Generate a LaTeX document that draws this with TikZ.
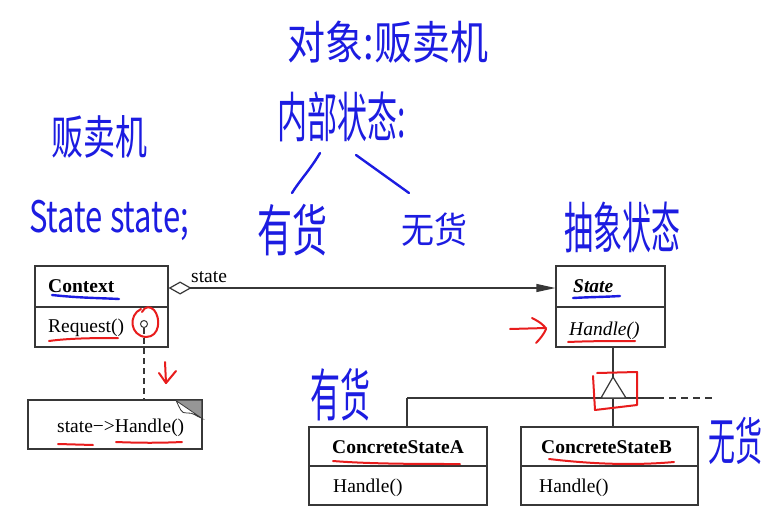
\documentclass[tikz,border=0pt]{standalone}
\usepackage{fontspec}
\setmainfont{Liberation Serif}
\newfontfamily\hwfont{Noto Sans CJK SC}
\usetikzlibrary{arrows.meta}
\definecolor{hwblue}{RGB}{28,28,225}
\definecolor{hwred}{RGB}{232,28,28}
\definecolor{linegray}{RGB}{55,55,55}
\definecolor{foldgray}{RGB}{150,150,150}
\newcommand\hwsize[1]{\hwfont\fontsize{#1}{#1}\selectfont}
\begin{document}
\begin{tikzpicture}[x=1pt,y=-1pt,
  umlbox/.style={draw=linegray, line width=1.2pt, rectangle, inner sep=0pt},
  umlline/.style={draw=linegray, line width=1.2pt},
  uml/.style={font=\fontsize{19.5}{22}\selectfont, inner sep=0pt, anchor=base west},
  hw/.style={text=hwblue, inner sep=0pt},
  bluepen/.style={draw=hwblue, line width=2.4pt, line cap=round, line join=round},
  redpen/.style={draw=hwred, line width=2pt, line cap=round, line join=round},
]
\useasboundingbox[fill=white] (0,0) rectangle (784,522);

% ---------- UML boxes ----------
\node[umlbox, minimum width=133pt, minimum height=81pt] (ctx) at (101.5,306.5) {};
\draw[umlline] (ctx.west |- 0,307) -- (ctx.east |- 0,307);
\node[uml, font=\fontsize{19.5}{22}\selectfont\bfseries] (ctxname) at (48,292) {Context};
\node[uml] (req) at (48,332) {Request()};
\node[circle, draw=linegray, line width=1pt, minimum size=7pt, inner sep=0pt] (dot) at (144,324) {};

\node[umlbox, minimum width=109pt, minimum height=81pt] (state) at (610.5,306.5) {};
\draw[umlline] (state.west |- 0,307) -- (state.east |- 0,307);
\node[uml, font=\fontsize{19.5}{22}\selectfont\bfseries\itshape] (statename) at (573,292) {State};
\node[uml, font=\fontsize{19.5}{22}\selectfont\itshape] (sh) at (569,335) {Handle()};

\node[umlbox, minimum width=178pt, minimum height=78pt] (csA) at (398,466) {};
\draw[umlline] (csA.west |- 0,466) -- (csA.east |- 0,466);
\node[uml, font=\fontsize{19.5}{22}\selectfont\bfseries] (csAname) at (332,453) {ConcreteStateA};
\node[uml] (csAh) at (333,492) {Handle()};

\node[umlbox, minimum width=177pt, minimum height=78pt] (csB) at (609.5,466) {};
\draw[umlline] (csB.west |- 0,466) -- (csB.east |- 0,466);
\node[uml, font=\fontsize{19.5}{22}\selectfont\bfseries] (csBname) at (541,453) {ConcreteStateB};
\node[uml] (csBh) at (539,492) {Handle()};

% note
\node[umlbox, minimum width=174pt, minimum height=49pt] (note) at (115,424.5) {};
\fill[foldgray] (176,400.6) -- (201.4,400.6) -- (201.4,418) -- cycle;
\draw[linegray, line width=0.8pt, fill=white] (176,400.6) .. controls (180,408) and (181,414) .. (187,413)
   .. controls (193,412) and (197,417) .. (201.4,418) -- cycle;
\node[uml] (notetxt) at (57,432) {state−>Handle()};
\draw[umlline, dash pattern=on 6pt off 4pt] (dot.south) -- (dot.south |- note.north);

% association
\draw[umlline, {Diamond[open,length=23pt,width=13pt]}-{Triangle[length=19pt,width=8pt]}]
  (ctx.east |- 0,288) -- (state.west |- 0,288);
\node[uml] (assoclbl) at (191,282) {state};

% inheritance
\coordinate (apex) at (613,377);
\coordinate (hL) at (407,398);
\coordinate (hM) at (613,398);
\coordinate (hR) at (657,398);
\coordinate (hD) at (717,398);
\draw[umlline] (apex |- state.south) -- (apex);
\draw[umlline] (hL) -- (hR);
\draw[umlline, dash pattern=on 7pt off 5pt] (hR) -- (hD);
\draw[umlline] (hL) -- (hL |- csA.north);
\draw[umlline] (hM) -- (hM |- csB.north);
\draw[umlline, fill=white] (apex) -- (601,398) -- (626,398) -- cycle;

% ---------- blue handwriting ----------
\node[hw, font=\hwsize{38}] (t1) at (388,42) {\scalebox{1}[1.2]{对象:贩卖机}};
\node[hw, font=\hwsize{30}] (t2) at (342,117) {\scalebox{1}[1.8]{内部状态:}};
\node[hw, font=\hwsize{32}] (t3) at (99,137) {\scalebox{1}[1.45]{贩卖机}};
\node[hw, font=\hwsize{31}] (t4) at (109,220) {\scalebox{1}[1.4]{State state;}};
\node[hw, font=\hwsize{35}] (t5) at (292,230) {\scalebox{1}[1.6]{有货}};
\node[hw, font=\hwsize{33}] (t6) at (434,230) {\scalebox{1}[1.1]{无货}};
\node[hw, font=\hwsize{29}] (t7) at (622,227) {\scalebox{1}[1.9]{抽象状态}};
\node[hw, font=\hwsize{30}] (t8) at (340,395) {\scalebox{1}[1.9]{有货}};
\node[hw, font=\hwsize{27}] (t9) at (735,441) {\scalebox{1}[1.9]{无货}};
\draw[bluepen] (320,153) .. controls (310,170) and (300,180) .. (292,193);
\draw[bluepen] (356,155) -- (409,193);
\draw[bluepen] (52,295) .. controls (80,298) and (100,298) .. (119,299);
\draw[bluepen] (573,298) .. controls (590,297) and (605,297) .. (620,296);

% ---------- red annotations ----------
\draw[redpen] (49,341) .. controls (70,338) and (100,338) .. (118,338);
\draw[redpen] (141,309) .. controls (128,315) and (130,336) .. (146,337)
   .. controls (160,337) and (161,318) .. (154,310) .. controls (150,306) and (145,306) .. (142,312);
\draw[redpen] (165,362) -- (166,383);
\draw[redpen] (159,373) -- (166,383) -- (176,371);
\draw[redpen] (58,444) -- (93,445);
\draw[redpen] (116,442) .. controls (140,443) and (160,443) .. (182,442);
\draw[redpen] (510,329) -- (546,328);
\draw[redpen] (532,318) .. controls (540,322) and (545,326) .. (546,329) .. controls (544,334) and (540,339) .. (536,343);
\draw[redpen] (568,342) .. controls (590,341) and (615,341) .. (635,341);
\draw[redpen] (597,373) -- (637,372) -- (637,405) -- (595,410) -- (593,376);
\draw[redpen] (333,461) .. controls (370,464) and (420,464) .. (460,464);
\draw[redpen] (549,459) .. controls (600,465) and (640,465) .. (674,462);
\end{tikzpicture}
\end{document}
